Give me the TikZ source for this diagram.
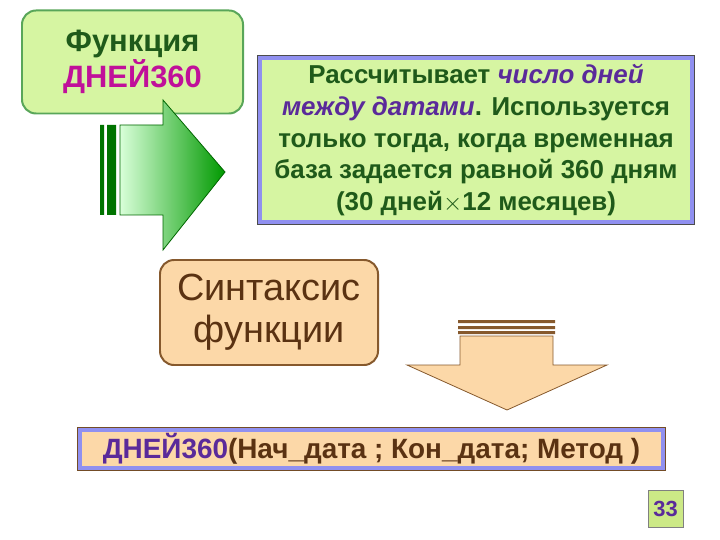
\documentclass[tikz,border=0pt]{standalone}
\usepackage{fontspec}
\setmainfont{Liberation Sans}
\usetikzlibrary{calc}
\definecolor{dgreen}{HTML}{1F5A1A}
\definecolor{lgreen}{HTML}{D6F5A2}
\definecolor{magent}{HTML}{C0109A}
\definecolor{purp}{HTML}{5A2A9A}
\definecolor{brownt}{HTML}{5A3212}
\definecolor{peach}{HTML}{FCD8A8}
\definecolor{glow}{HTML}{9090F0}
\begin{document}
\begin{tikzpicture}[x=1bp,y=-1bp,
  txt/.style={font=\bfseries\fontsize{26}{32}\selectfont,align=center},
  glowbox/.style={draw=glow,line width=5pt,inner sep=0pt},
  ]
\useasboundingbox (0,0) rectangle (720,540);
% box 1
\node[draw=gray!70!green,line width=2pt,fill=lgreen,rounded corners=14bp,minimum width=221bp,minimum height=103bp,inner sep=0pt,
  font=\bfseries\fontsize{31}{36}\selectfont,align=center] (f) at (132.5,62)
  {\textcolor{dgreen}{Функция}\\\textcolor{magent}{ДНЕЙ360}};
% green arrow
\fill[green!45!black] (100,125) rectangle (104,215) (107,125) rectangle (116,215);
\draw[green!40!black,left color=green!15!white,right color=green!60!black,line width=0.8pt]
 (120,125) -- (163,125) -- (163,100) -- (225,172) -- (163,250) -- (163,215) -- (120,215) -- cycle;
% box 2
\node[glowbox,fill=lgreen,minimum width=432bp,minimum height=164bp] (d) at (476,140) {};
\node[txt,text=dgreen] (dt) at (d.center) {%
Рассчитывает \textcolor{purp}{\itshape число дней}\\
\textcolor{purp}{\itshape между датами}. Используется\\
только тогда, когда временная\\
база задается равной 360 дням\\
(30 дней$\times$12 месяцев)};
\draw[gray!60!black,line width=0.8pt] (d.north west) rectangle (d.south east);
% box 3
\node[draw=brown!70!black,line width=2pt,fill=peach,rounded corners=14bp,minimum width=218bp,minimum height=105bp,inner sep=0pt,
  font=\fontsize{38}{42}\selectfont,align=center,text=brownt] (s) at (269,312.5) {Синтаксис\\функции};
% down arrow
\fill[brown!70!black] (458,320) rectangle (555,323) (458,326) rectangle (555,329) (458,331) rectangle (555,334);
\draw[brown!70!black,fill=peach,line width=0.8pt]
 (460,336) -- (553,336) -- (553,365) -- (607,365) -- (507,410) -- (407,365) -- (460,365) -- cycle;
% box 4
\node[glowbox,fill=peach,minimum width=583bp,minimum height=38bp] (b) at (371.5,449) {};
\node[txt,text=brownt,font=\bfseries\fontsize{28}{30}\selectfont] (bt) at (b.center) {\textcolor{purp}{ДНЕЙ360}(Нач\_дата ; Кон\_дата; Метод )};
\draw[brown!60!black,line width=0.8pt] (b.north west) rectangle (b.south east);
% page no
\node[draw=gray,fill=yellow!60!green!50,minimum width=35bp,minimum height=37bp,inner sep=0pt,
 font=\bfseries\fontsize{22}{24}\selectfont,text=purp] (p) at (665.5,508.5) {33};
\end{tikzpicture}
\end{document}
